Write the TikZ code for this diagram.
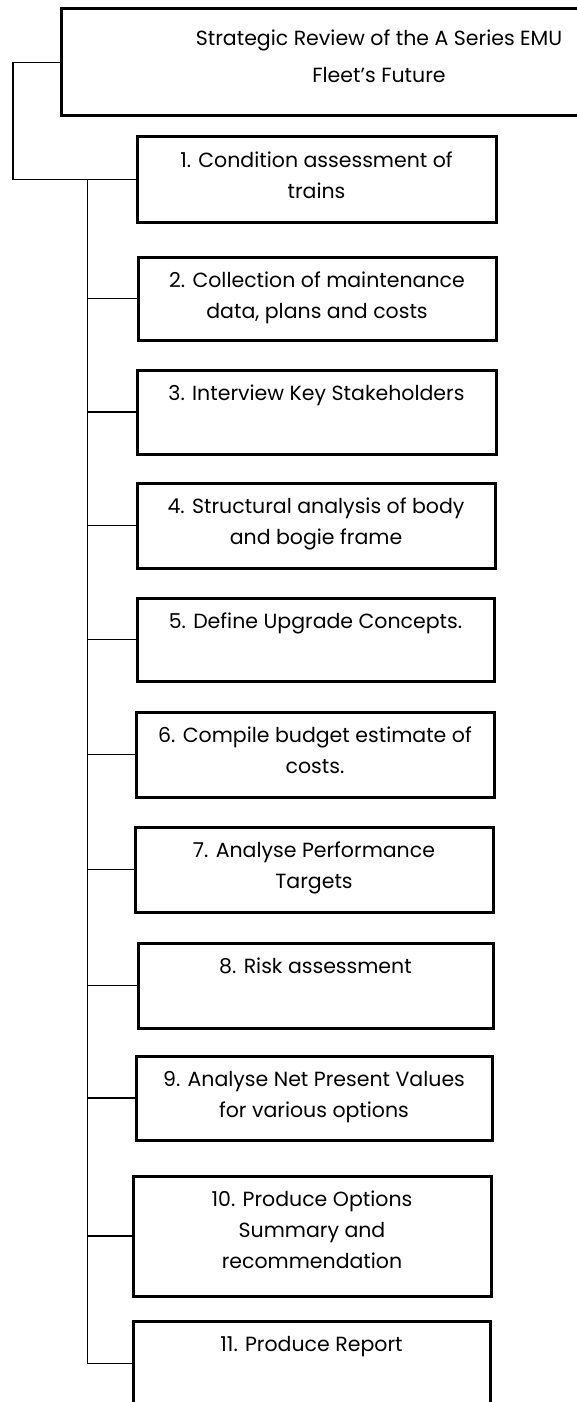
\documentclass[tikz,border=0pt]{standalone}
\usepackage{fontspec}
\setmainfont{Poppins}
\begin{document}
\begin{tikzpicture}[x=1pt,y=-1pt,
  task/.style={draw, line width=3pt, inner sep=0pt, outer sep=0pt, anchor=north west},
  link/.style={line width=1.8pt}]
\useasboundingbox (0,0) rectangle (577,1402);
\clip (0,0) rectangle (577,1402);

% box with its text set from the top: [gap], name, left, top, right, bottom, text
\newcommand\taskbox[7][8.5pt]{%
  \pgfmathsetmacro\bw{#5-#3}\pgfmathsetmacro\bh{#6-#4}%
  \node[task] (#2) at (#3,#4)
    {\parbox[b][\bh pt][t]{\bw pt}{\centering\fontsize{20.5}{31}\selectfont
      \vspace*{#1}\strut #7}};}

\taskbox[14.5pt]{top}{61}{9}{697}{116}{Strategic Review of the A Series EMU\\[6pt]Fleet's Future}
\taskbox{t1}{137}{137}{496}{222}{1. Condition assessment of\\trains}
\taskbox{t2}{138}{257}{496}{340}{2. Collection of maintenance\\data, plans and costs}
\taskbox{t3}{137}{370}{496}{454}{3. Interview Key Stakeholders}
\taskbox{t4}{137}{483}{495}{568}{4. Structural analysis of body\\and bogie frame}
\taskbox{t5}{137}{598}{494}{681}{5. Define Upgrade Concepts.}
\taskbox{t6}{136}{712}{494}{797}{6. Compile budget estimate of\\costs.}
\taskbox{t7}{135}{827}{493}{912}{7. Analyse Performance\\Targets}
\taskbox{t8}{138}{943}{493}{1028}{8. Risk assessment}
\taskbox{t9}{136}{1056}{492}{1140}{9. Analyse Net Present Values\\for various options}
\taskbox{t10}{133}{1176}{491}{1296}{10. Produce Options\\Summary and\\recommendation}
\taskbox{t11}{133}{1321}{490}{1406}{11. Produce Report}

% connectors
\coordinate (outer) at (13,0);
\coordinate (trunk) at (87.5,0);
\draw[link] (top.west) -| (outer |- t1.west) -- (t1.west);
\draw[link] (trunk |- t1.west) -- (trunk |- t11.west);
\foreach \i in {2,...,11}
  \draw[link] (trunk |- t\i.west) -- (t\i.west);
\end{tikzpicture}
\end{document}
